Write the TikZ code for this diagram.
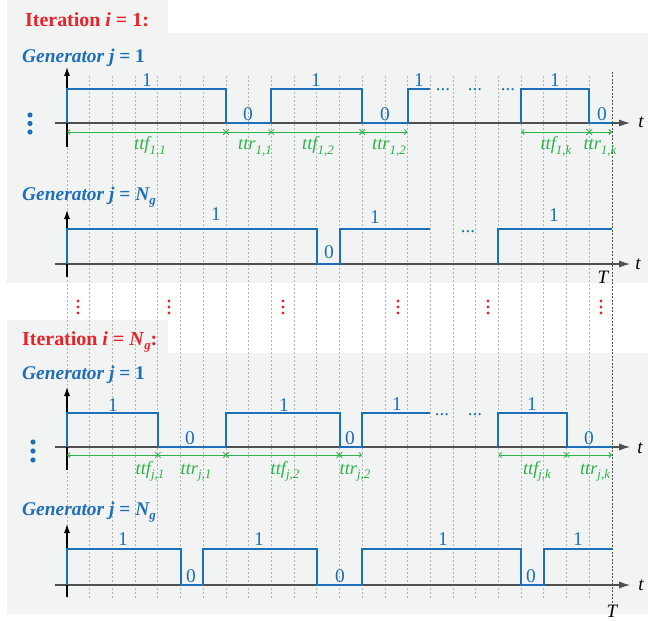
\documentclass[tikz,border=0pt]{standalone}
\usepackage{fontspec}
\setmainfont{Liberation Serif}
\usetikzlibrary{arrows.meta}
\definecolor{bgc}{HTML}{F2F3F3}
\definecolor{wblue}{HTML}{1F6FB8}
\definecolor{wgreen}{HTML}{2DB24C}
\definecolor{wred}{HTML}{E8232A}
\definecolor{axgray}{HTML}{505050}
\definecolor{gridc}{HTML}{B4B4B4}
\newcommand\sbs[1]{\raisebox{-0.22em}{\fontsize{13}{13}\selectfont #1}}
\tikzset{
  panel/.style={fill=bgc, draw=none},
  gridline/.style={gridc, line width=0.8bp, dash pattern=on 2bp off 2bp},
  tline/.style={axgray, line width=0.9bp, dash pattern=on 2bp off 1.5bp},
  wave/.style={wblue, line width=2bp, line join=miter},
  vaxis/.style={black, line width=1.1bp, -{Latex[length=9bp,width=6bp]}},
  taxis/.style={axgray, line width=1.2bp, -{Latex[length=11bp,width=7bp]}},
  garrow/.style={wgreen, line width=0.9bp, {Straight Barb[length=2.5bp,width=5bp]}-{Straight Barb[length=2.5bp,width=5bp]}},
  xmk/.pic={\draw[wgreen, line width=0.8bp] (-2.8bp,-2.8bp)--(2.8bp,2.8bp) (-2.8bp,2.8bp)--(2.8bp,-2.8bp);},
  ititle/.style={wred, font=\fontsize{20}{24}\selectfont\bfseries, anchor=base west, inner sep=0},
  genlab/.style={wblue, font=\fontsize{19.5}{23}\selectfont\bfseries\itshape, anchor=base west, inner sep=0},
  lvl/.style={wblue, font=\fontsize{19.5}{22}\selectfont, inner sep=0},
  dotsl/.style={wblue, font=\fontsize{19}{22}\selectfont, inner sep=0, anchor=base},
  glab/.style={wgreen, font=\fontsize{18.5}{21}\selectfont\itshape, anchor=base, inner sep=0},
  tlab/.style={black, font=\fontsize{19}{22}\selectfont\itshape, inner sep=0},
}
\begin{document}
\begin{tikzpicture}[x=1bp,y=-1bp]
\useasboundingbox (0,0) rectangle (648,621);
% panels
\fill[panel] (7,0) rectangle (168,34);
\fill[panel] (7,33) rectangle (648,283);
\fill[panel] (7,320) rectangle (168,354);
\fill[panel] (7,353) rectangle (648,614);

\begin{scope}[shift={(67,0)}, x=22.708bp]
% grid
\foreach \n in {0,...,23} \draw[gridline] (\n,76) -- (\n,598);
\draw[tline] (24,72) -- (24,604);
% axes
\draw[taxis] (-0.53,123) -- (24.8,123);
\draw[taxis] (-0.53,264) -- (24.8,264);
\draw[taxis] (-0.53,447) -- (24.8,447);
\draw[taxis] (-0.53,585) -- (24.8,585);
\draw[vaxis] (0,147) -- (0,67);
\draw[vaxis] (0,277) -- (0,210);
\draw[vaxis] (0,470) -- (0,387);
\draw[vaxis] (0,597) -- (0,524);
% chart 1 waveform (low 123, high 89)
\draw[wave] (0,123) -- (0,89) -- (7,89) -- (7,123) -- (9,123) -- (9,89) -- (13,89) -- (13,123) -- (15,123) -- (15,89) -- (16,89);
\draw[wave] (20,123) -- (20,89) -- (23,89) -- (23,123) -- (24,123);
% chart 2 waveform (low 264, high 229)
\draw[wave] (0,264) -- (0,229) -- (11,229) -- (11,264) -- (12,264) -- (12,229) -- (16,229);
\draw[wave] (19,264) -- (19,229) -- (24,229);
% chart 3 waveform (low 447, high 413)
\draw[wave] (0,447) -- (0,413) -- (4,413) -- (4,447) -- (7,447) -- (7,413) -- (12,413) -- (12,447) -- (13,447) -- (13,413) -- (16,413);
\draw[wave] (19,447) -- (19,413) -- (22,413) -- (22,447) -- (24,447);
% chart 4 waveform (low 585, high 549)
\draw[wave] (0,585) -- (0,549) -- (5,549) -- (5,585) -- (6,585) -- (6,549) -- (11,549) -- (11,585) -- (13,585) -- (13,549) -- (20,549) -- (20,585) -- (21,585) -- (21,549) -- (24,549);
% green time spans
\draw[garrow] (0,132) -- (15,132);
\draw[garrow] (20,132) -- (24,132);
\foreach \n in {7,9,13,23} \pic at (\n,132) {xmk};
\draw[garrow] (0,455) -- (13,455);
\draw[garrow] (19,455) -- (24,455);
\foreach \n in {4,7,12,22} \pic at (\n,455) {xmk};
\end{scope}

% vertical ellipses
\foreach \y in {115,123.5,132} \fill[wblue] (30,\y) circle (2.6);
\foreach \y in {442,451,460} \fill[wblue] (33,\y) circle (2.6);
\foreach \x in {78,169,283,398,488,601}
  \foreach \y in {301,307,313} \fill[wred] (\x,\y) circle (1.6);

% titles
\node[ititle] (it1) at (25,27) {Iteration \textit{i} = 1:};
\node[ititle] (it2) at (22,345) {Iteration \textit{i} = \textit{N}\sbs{\textit{g}}:};
\node[genlab] (g11) at (22,63) {Generator j {\upshape= 1}};
\node[genlab] (g1n) at (22,200) {Generator j {\upshape=} N\sbs{g}};
\node[genlab] (g21) at (22,379) {Generator j {\upshape= 1}};
\node[genlab] (g2n) at (22,515) {Generator j {\upshape=} N\sbs{g}};

% level labels chart 1
\node[lvl] (a1) at (147,80) {1};
\node[lvl] (a2) at (248,114) {0};
\node[lvl] (a3) at (316,80) {1};
\node[lvl] (a4) at (385,114) {0};
\node[lvl] (a5) at (419,80) {1};
\node[lvl] (a6) at (555,80) {1};
\node[lvl] (a7) at (602,114) {0};
\node[dotsl] (ad1) at (443,91) {...};
\node[dotsl] (ad2) at (475,91) {...};
\node[dotsl] (ad3) at (508,91) {...};
% chart 2
\node[lvl] (b1) at (216,214) {1};
\node[lvl] (b2) at (329,252) {0};
\node[lvl] (b3) at (375,217) {1};
\node[lvl] (b4) at (554,215) {1};
\node[dotsl] (bd1) at (468,232) {...};
% chart 3
\node[lvl] (c1) at (113,405) {1};
\node[lvl] (c2) at (190,438) {0};
\node[lvl] (c3) at (284,405) {1};
\node[lvl] (c4) at (350,438) {0};
\node[lvl] (c5) at (397,404) {1};
\node[lvl] (c6) at (532,404) {1};
\node[lvl] (c7) at (589,438) {0};
\node[dotsl] (cd1) at (442,415) {...};
\node[dotsl] (cd2) at (475,415) {...};
% chart 4
\node[lvl] (d1) at (123,539) {1};
\node[lvl] (d2) at (191,576) {0};
\node[lvl] (d3) at (259,539) {1};
\node[lvl] (d4) at (340,576) {0};
\node[lvl] (d5) at (443,539) {1};
\node[lvl] (d6) at (531,576) {0};
\node[lvl] (d7) at (578,539) {1};

% green labels
\node[glab] (e1) at (150,150) {ttf\sbs{1,1}};
\node[glab] (e2) at (255,150) {ttr\sbs{1,1}};
\node[glab] (e3) at (318,150) {ttf\sbs{1,2}};
\node[glab] (e4) at (389,150) {ttr\sbs{1,2}};
\node[glab] (e5) at (556,150) {ttf\sbs{1,k}};
\node[glab] (e6) at (600,150) {ttr\sbs{1,k}};
\node[glab] (f1) at (150,474) {ttf\sbs{j,1}};
\node[glab] (f2) at (196,474) {ttr\sbs{j,1}};
\node[glab] (f3) at (285,474) {ttf\sbs{j,2}};
\node[glab] (f4) at (355,474) {ttr\sbs{j,2}};
\node[glab] (f5) at (537,474) {ttf\sbs{j,k}};
\node[glab] (f6) at (595,474) {ttr\sbs{j,k}};

% axis labels
\node[tlab] (t1) at (641,122) {t};
\node[tlab] (t2) at (638,264) {t};
\node[tlab] (t3) at (640,448) {t};
\node[tlab] (t4) at (641,585) {t};
\node[tlab] (T1) at (603,277) {T};
\node[tlab] (T2) at (612,611) {T};
\end{tikzpicture}
\end{document}
